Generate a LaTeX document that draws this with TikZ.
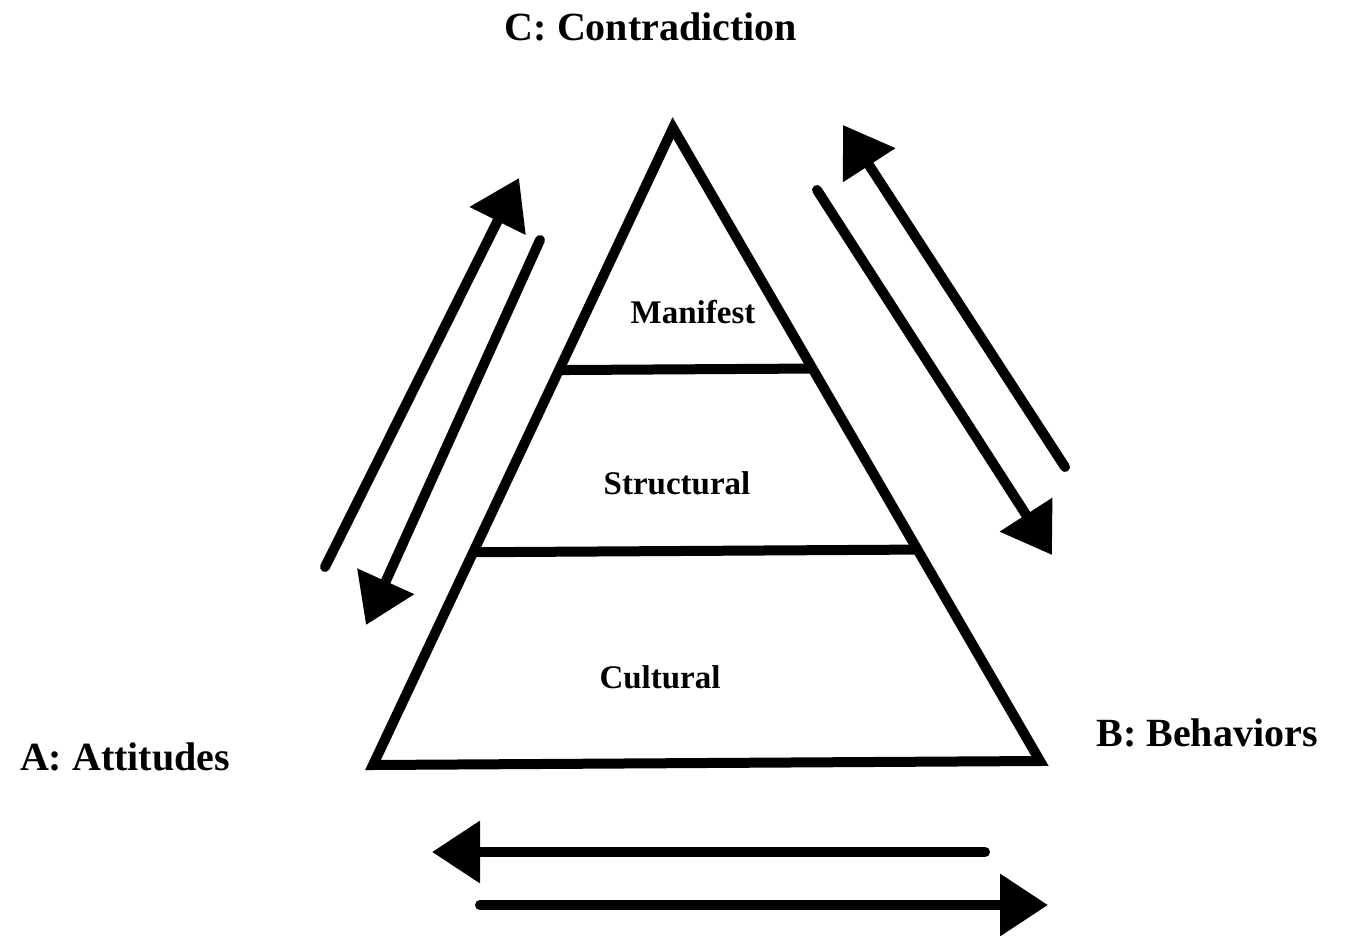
\documentclass[tikz,border=0pt]{standalone}
\usepackage{fontspec}
\setmainfont{Liberation Serif}
\usetikzlibrary{arrows.meta,calc}
\begin{document}
\begin{tikzpicture}[x=1pt,y=-1pt,
  thick line/.style={line width=10pt},
  arr/.style={line width=10pt,line cap=round,-{Triangle[length=48pt,width=60pt]}},
  big/.style={font=\bfseries\fontsize{40}{48}\selectfont,inner sep=0pt},
  small/.style={font=\bfseries\fontsize{33}{40}\selectfont,inner sep=0pt}]
\useasboundingbox (0,0) rectangle (1349,936);
% pyramid
\coordinate (apex) at (673,128);
\coordinate (bl) at (373,765);
\coordinate (br) at (1040,761);
\draw[thick line,line join=miter] (apex) -- (br) -- (bl) -- cycle;
\coordinate (m1l) at ($(apex)!0.38!(bl)$);
\coordinate (m1r) at ($(apex)!0.38!(br)$);
\coordinate (m2l) at ($(apex)!0.666!(bl)$);
\coordinate (m2r) at ($(apex)!0.666!(br)$);
\draw[thick line] (m1l) -- (m1r);
\draw[thick line] (m2l) -- (m2r);
% labels
\node[small] (man) at (693,312) {Manifest};
\node[small] (str) at (677,483) {Structural};
\node[small] (cul) at (660,677) {Cultural};
\node[big] (C) at (651,27) {C: Contradiction};
\node[big] (A) at (125,757) {A: Attitudes};
\node[big] (B) at (1207,733) {B: Behaviors};
% arrow end points
\coordinate (l1s) at (325,567);  \coordinate (l1e) at (519,178);
\coordinate (l2s) at (540,240);  \coordinate (l2e) at (366,625);
\coordinate (r1s) at (1065,467); \coordinate (r1e) at (843,125);
\coordinate (r2s) at (817,190);  \coordinate (r2e) at (1052,555);
\coordinate (b1s) at (985,852);  \coordinate (b1e) at (432,852);
\coordinate (b2s) at (480,905);  \coordinate (b2e) at (1048,905);
\draw[arr] (l1s) -- (l1e);
\draw[arr] (l2s) -- (l2e);
\draw[arr] (r1s) -- (r1e);
\draw[arr] (r2s) -- (r2e);
\draw[arr] (b1s) -- (b1e);
\draw[arr] (b2s) -- (b2e);
\end{tikzpicture}
\end{document}
